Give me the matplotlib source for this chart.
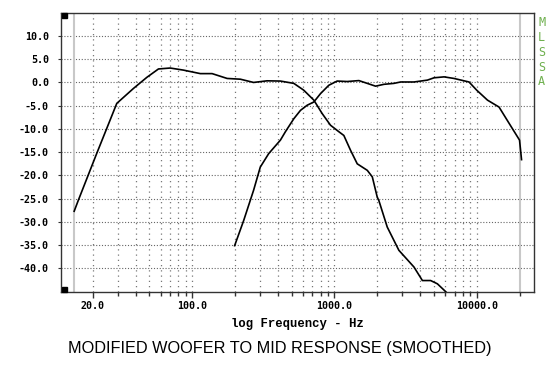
import matplotlib
matplotlib.use("Agg")
import matplotlib.pyplot as plt
from matplotlib.ticker import FixedLocator, NullFormatter

# ---- data ----
woofer_freq = [14.8, 15.8, 21.3, 29.5, 38.6, 48, 57.9, 70, 86.9, 114, 138, 176, 218,
               270, 336, 417, 518, 608, 716, 820, 938, 1074, 1164, 1298, 1446, 1701,
               1845, 2000, 2052, 2350, 2837, 3623, 4151, 4743, 5290, 6057, 6300]
woofer_db = [-27.7, -25.4, -15.3, -4.5, -1.3, 1.1, 2.9, 3.1, 2.65, 1.9, 1.9, 0.86, 0.7,
             0.0, 0.35, 0.3, -0.2, -1.66, -3.8, -6.7, -9.2, -10.6, -11.4, -14.6, -17.5, -18.9,
             -20.3, -24.7, -25.4, -31.1, -36.1, -39.7, -42.6, -42.6, -43.3, -45.0, -45.6]

mid_freq = [198.7, 230, 270, 301, 345, 417, 452, 518, 577, 643, 716, 798, 913, 1045,
            1229, 1485, 1701, 1945, 2228, 2618, 2917, 3623, 4498, 5012, 5892, 6925,
            8830, 10000, 11900, 14360, 16900, 20000, 20660]
mid_db = [-35.1, -29.7, -23.2, -18.2, -15.3, -12.4, -10.6, -7.8, -6.0, -4.9, -4.2, -2.4,
          -0.6, 0.3, 0.2, 0.4, -0.2, -0.8, -0.4, -0.2, 0.1, 0.1, 0.5, 1.0, 1.2, 0.86,
          0.1, -1.66, -3.8, -5.3, -8.8, -12.4, -16.6]

y_ticks = [10, 5, 0, -5, -10, -15, -20, -25, -30, -35, -40]
y_labels = ["10.0", "5.0", "0.0", "-5.0", "-10.0", "-15.0", "-20.0", "-25.0",
            "-30.0", "-35.0", "-40.0"]
x_major = [20, 100, 1000, 10000]
x_labels = ["20.0", "100.0", "1000.0", "10000.0"]
x_grid = [20, 30, 40, 50, 60, 70, 80, 90, 100, 200, 300, 400, 500, 600, 700, 800, 900,
          1000, 2000, 3000, 4000, 5000, 6000, 7000, 8000, 9000, 10000]
x_minor = [30, 40, 50, 60, 70, 80, 90, 200, 300, 400, 500, 600, 700, 800, 900,
           2000, 3000, 4000, 5000, 6000, 7000, 8000, 9000, 20000]
band_limits = [14.7, 20000]
x_range = [11.9, 25400]
y_range = [-45, 15]

title = "MODIFIED WOOFER TO MID RESPONSE (SMOOTHED)"
xlabel = "log Frequency - Hz"

# ---- figure ----
fig = plt.figure(figsize=(5.6, 3.74), dpi=100)
ax = fig.add_axes([60.7 / 560, 1 - 291.7 / 374, (534.3 - 60.7) / 560, (291.7 - 12.7) / 374])
ax.set_xscale("log")
ax.set_xlim(*x_range)
ax.set_ylim(*y_range)

for y in y_ticks:
    ax.axhline(y, color="#666666", linewidth=0.8, linestyle=(0, (1, 1.6)), zorder=1)
for x in x_grid:
    ax.axvline(x, color="#777777", linewidth=0.9, linestyle=(0, (1, 3.2)), zorder=1)
for x in band_limits:
    ax.axvline(x, color="#c8c8c8", linewidth=1.5, zorder=1)

ax.plot(woofer_freq, woofer_db, color="black", linewidth=1.2, zorder=3)
ax.plot(mid_freq, mid_db, color="black", linewidth=1.2, zorder=3)

# corner markers
for yy in (0.991, 0.009):
    ax.plot([0.0065], [yy], transform=ax.transAxes, marker="s", ms=3.6,
            color="black", clip_on=False, zorder=4)

tick_font = dict(family="DejaVu Sans Mono", weight="bold", size=7.2)
ax.xaxis.set_major_locator(FixedLocator(x_major))
ax.xaxis.set_minor_locator(FixedLocator(x_minor))
ax.xaxis.set_minor_formatter(NullFormatter())
ax.set_xticks(x_major)
ax.set_xticklabels(x_labels, fontdict=tick_font)
ax.set_yticks(y_ticks)
ax.set_yticklabels(y_labels, fontdict=tick_font)
ax.tick_params(axis="x", which="major", direction="out", length=4.5, width=1, pad=2.5, color="#333333")
ax.tick_params(axis="x", which="minor", direction="out", length=3, width=1, color="#333333")
ax.tick_params(axis="y", which="major", direction="out", length=2.5, width=0.8, pad=6, color="#333333")

for s in ax.spines.values():
    s.set_color("#333333")
    s.set_linewidth(1.0)

ax.set_xlabel(xlabel, family="Liberation Mono", weight="bold", size=8.8, labelpad=5)

fig.text(541.7 / 560, 1 - 16.5 / 374, "M\nL\nS\nS\nA", color="#6fb04f",
         family="DejaVu Sans Mono", size=8.5, ha="center", va="top", linespacing=1.17)

fig.text(0.5, 1 - 349 / 374, title, family="Liberation Sans", size=11.7,
         ha="center", va="center")

fig.savefig("out.png", dpi=100)
